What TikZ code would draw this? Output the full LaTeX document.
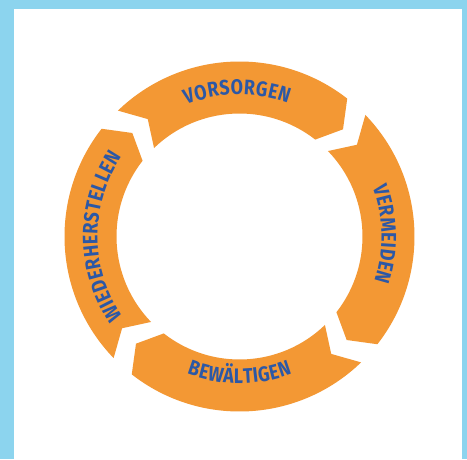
\documentclass[tikz,border=0pt]{standalone}
\usepackage{fontspec}
\usetikzlibrary{decorations.text}
\newfontfamily\ringfont{Fira Sans}[FakeStretch=0.85]
\definecolor{frameblue}{RGB}{140,212,238}
\definecolor{ringorange}{RGB}{243,152,52}
\definecolor{textblue}{RGB}{44,88,166}
\newcommand\ringtext{\ringfont\bfseries\fontsize{21}{21}\selectfont}
\tikzset{
  ringlabel/.style={decorate, decoration={text effects along path, text={#1}, text align=center,
    text effects/.cd, text along path,
    character widths={inner xsep=0.25pt, font=\ringtext},
    characters={text=textblue, font=\ringtext, inner sep=0pt}}}
}

\begin{document}
\begin{tikzpicture}[x=1pt,y=1pt]
  % frame and white sheet
  \fill[frameblue] (-239.5,-222.5) rectangle (227.5,236.5);
  \fill[white] (-225.5,-222.5) rectangle (223,227.5);
  % draw the four ring arrows, clockwise
  \foreach \c in {93,3,-87,-177} {
    \fill[ringorange] (\c+41:175) arc[start angle=\c+41, end angle=\c-41, radius=175]
      -- (\c-47:149) -- (\c-41:123) arc[start angle=\c-41, end angle=\c+41, radius=123]
      -- (\c+35:149) -- cycle;
  }
  % labels along the ring
  \path[ringlabel=VORSORGEN] (131:142) arc[start angle=131, end angle=51, radius=142];
  \path[ringlabel=VERMEIDEN] (41:142) arc[start angle=41, end angle=-39, radius=142];
  \path[ringlabel=BEWÄLTIGEN] (-130:147) arc[start angle=-130, end angle=-50, radius=147];
  \path[ringlabel=WIEDERHERSTELLEN] (230:142) arc[start angle=230, end angle=130, radius=142];
\end{tikzpicture}
\end{document}
